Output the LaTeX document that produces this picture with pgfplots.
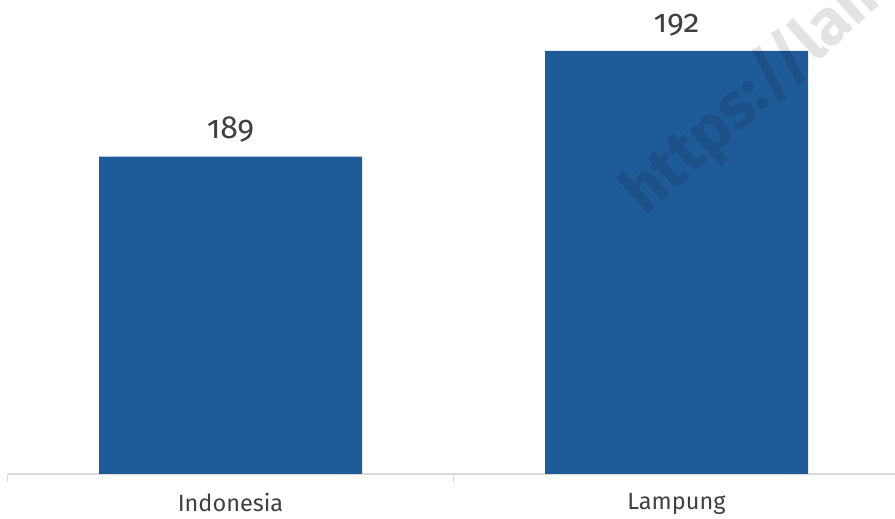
\documentclass[border=0pt]{standalone}
\usepackage{pgfplots}
\pgfplotsset{compat=1.18}
\usepackage{fontspec}
\setmainfont{Fira Sans}[Numbers=OldStyle]
\definecolor{barblue}{HTML}{1F5B99}
\definecolor{axisgray}{HTML}{D9D9D9}
\definecolor{labelgray}{HTML}{404040}
\begin{document}
\begin{tikzpicture}[x=1pt,y=1pt]
\path[use as bounding box] (0,0) rectangle (895,519);
\clip (0,0) rectangle (895,519);
\begin{axis}[
  at={(7.5pt,45pt)}, anchor=south west,
  scale only axis, width=892pt, height=458.25pt,
  xmin=-0.5, xmax=1.5, ymin=180, ymax=193,
  ybar, bar width=263pt,
  axis x line=bottom, axis y line=none,
  x axis line style={-, draw=axisgray, line width=1.2pt},
  xtick={0,1}, xticklabels={Indonesia, Lampung},
  major tick length=0pt,
  extra x ticks={-0.5,0.5,1.5}, extra x tick labels={},
  extra x tick style={major tick length=8pt, tick align=outside, tick style={draw=axisgray, line width=1.2pt}},
  xticklabel style={font=\fontsize{23.5}{27}\selectfont, text=labelgray, yshift=-16pt},
  /pgf/number format/assume math mode=true,
  nodes near coords,
  every node near coord/.append style={font=\fontsize{32}{35}\selectfont, text=labelgray, anchor=base, yshift=18pt},
  clip=false,
]
\addplot[fill=barblue, draw=none] coordinates {(0,189) (1,192)};
\end{axis}
\node[rotate=42, anchor=base west, text=black, opacity=0.11, font=\fontsize{64}{66}\selectfont\bfseries, inner sep=0pt] at (645,302) {https://lampung.bps.go.id};
\end{tikzpicture}
\end{document}
